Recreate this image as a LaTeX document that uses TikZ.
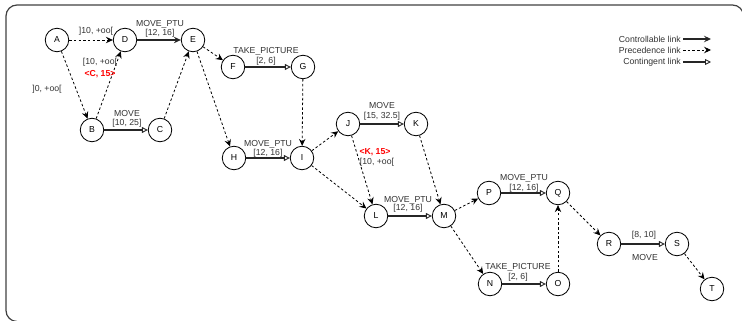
\documentclass[tikz,border=0pt]{standalone}
\usepackage{fontspec}
\setmainfont{Liberation Sans}
\usetikzlibrary{arrows.meta}
\begin{document}
\begin{tikzpicture}[x=1pt,y=-1pt,
  state/.style={circle,draw,line width=0.8pt,minimum size=23.5pt,inner sep=0pt,
    font=\fontsize{8.7}{10}\selectfont},
  lbl/.style={inner sep=0pt,text=black!80,font=\fontsize{8.7}{10}\selectfont},
  key/.style={inner sep=0pt,text=red,font=\fontsize{8.7}{10}\selectfont\bfseries},
  ctrl/.style={line width=1.1pt,draw=black!85,-{Stealth[length=7pt,width=6.5pt,inset=2.5pt]}},
  prec/.style={line width=0.8pt,dash pattern=on 2.5pt off 2.2pt,
    -{Stealth[length=7pt,width=6.5pt,inset=2.5pt]}},
  cont/.style={line width=1.1pt,draw=black!85,-{Triangle[open,length=6pt,width=6pt,line width=0.9pt]}},
]
\useasboundingbox (0,0) rectangle (742,321);
\clip (0,0) rectangle (742,321);
% outer frame: only the top and left edges fall inside the page
\draw[line width=1.2pt,draw=black!75,rounded corners=11pt]
  (17,321.5) -- (6,321.5) -- (6,5) -- (743.5,5) -- (743.5,30);

% states
\node[state] (A) at (57,40) {A};
\node[state] (D) at (125,40) {D};
\node[state] (E) at (193,40) {E};
\node[state] (B) at (92,130) {B};
\node[state] (C) at (160,130) {C};
\node[state] (F) at (233,67) {F};
\node[state] (G) at (303,67) {G};
\node[state] (H) at (234,158) {H};
\node[state] (I) at (302,158) {I};
\node[state] (J) at (348,124) {J};
\node[state] (K) at (416,124) {K};
\node[state] (L) at (376,216) {L};
\node[state] (M) at (444,216) {M};
\node[state] (P) at (489,193) {P};
\node[state] (Q) at (558,193) {Q};
\node[state] (N) at (490,284) {N};
\node[state] (O) at (558,284) {O};
\node[state] (R) at (609,244) {R};
\node[state] (S) at (677,244) {S};
\node[state] (T) at (712,289) {T};

% links
\draw[prec] (A) -- (D);
\draw[ctrl] (D) -- (E);
\draw[prec] (A) -- (B);
\draw[prec] (B) -- (D);
\draw[cont] (B) -- (C);
\draw[prec] (C) -- (E);
\draw[prec] (E) -- (F);
\draw[prec] (E) -- (H);
\draw[cont] (F) -- (G);
\draw[prec] (G) -- (I);
\draw[cont] (H) -- (I);
\draw[prec] (I) -- (J);
\draw[prec] (I) -- (L);
\draw[cont] (J) -- (K);
\draw[prec] (J) -- (L);
\draw[prec] (K) -- (M);
\draw[cont] (L) -- (M);
\draw[prec] (M) -- (P);
\draw[prec] (M) -- (N);
\draw[cont] (P) -- (Q);
\draw[cont] (N) -- (O);
\draw[prec] (O) -- (Q);
\draw[prec] (Q) -- (R);
\draw[cont] (R) -- (S);
\draw[prec] (S) -- (T);

% labels
\node[lbl] (lAD) at (96,31) {]10, +oo[};
\node[lbl] (lDE1) at (160,24) {MOVE\_PTU};
\node[lbl] (lDE2) at (160,33) {[12, 16]};
\node[lbl] (lAB) at (47,89) {]0, +oo[};
\node[lbl] (lBD) at (100,62) {[10, +oo[};
\node[key] (kBD) at (100,74) {<C, 15>};
\node[lbl] (lBC1) at (127,114) {MOVE};
\node[lbl] (lBC2) at (127,123) {[10, 25]};
\node[lbl] (lFG1) at (266,51) {TAKE\_PICTURE};
\node[lbl] (lFG2) at (266,61) {[2, 6]};
\node[lbl] (lHI1) at (268,144) {MOVE\_PTU};
\node[lbl] (lHI2) at (268,153) {[12, 16]};
\node[lbl] (lJK1) at (382,106) {MOVE};
\node[lbl] (lJK2) at (382,116) {[15, 32.5]};
\node[key] (kJL) at (375,152) {<K, 15>};
\node[lbl] (lJL) at (377,162) {[10, +oo[};
\node[lbl] (lLM1) at (408,200) {MOVE\_PTU};
\node[lbl] (lLM2) at (408,208) {[12, 16]};
\node[lbl] (lPQ1) at (524,178) {MOVE\_PTU};
\node[lbl] (lPQ2) at (524,188) {[12, 16]};
\node[lbl] (lNO1) at (518,267) {TAKE\_PICTURE};
\node[lbl] (lNO2) at (518,277) {[2, 6]};
\node[lbl] (lRS1) at (644,235) {[8, 10]};
\node[lbl] (lRS2) at (645,258) {MOVE};

% legend
\node[lbl,anchor=east] (kc) at (681,39) {Controllable link};
\node[lbl,anchor=east] (kp) at (681,50) {Precedence link};
\node[lbl,anchor=east] (kn) at (681,62) {Contingent link};
\coordinate (kc1) at (711,39);
\coordinate (kp1) at (711,50);
\coordinate (kn1) at (711,62);
\draw[ctrl] ([xshift=2pt]kc.east) -- (kc1);
\draw[prec] ([xshift=2pt]kp.east) -- (kp1);
\draw[cont] ([xshift=2pt]kn.east) -- (kn1);
\end{tikzpicture}
\end{document}
